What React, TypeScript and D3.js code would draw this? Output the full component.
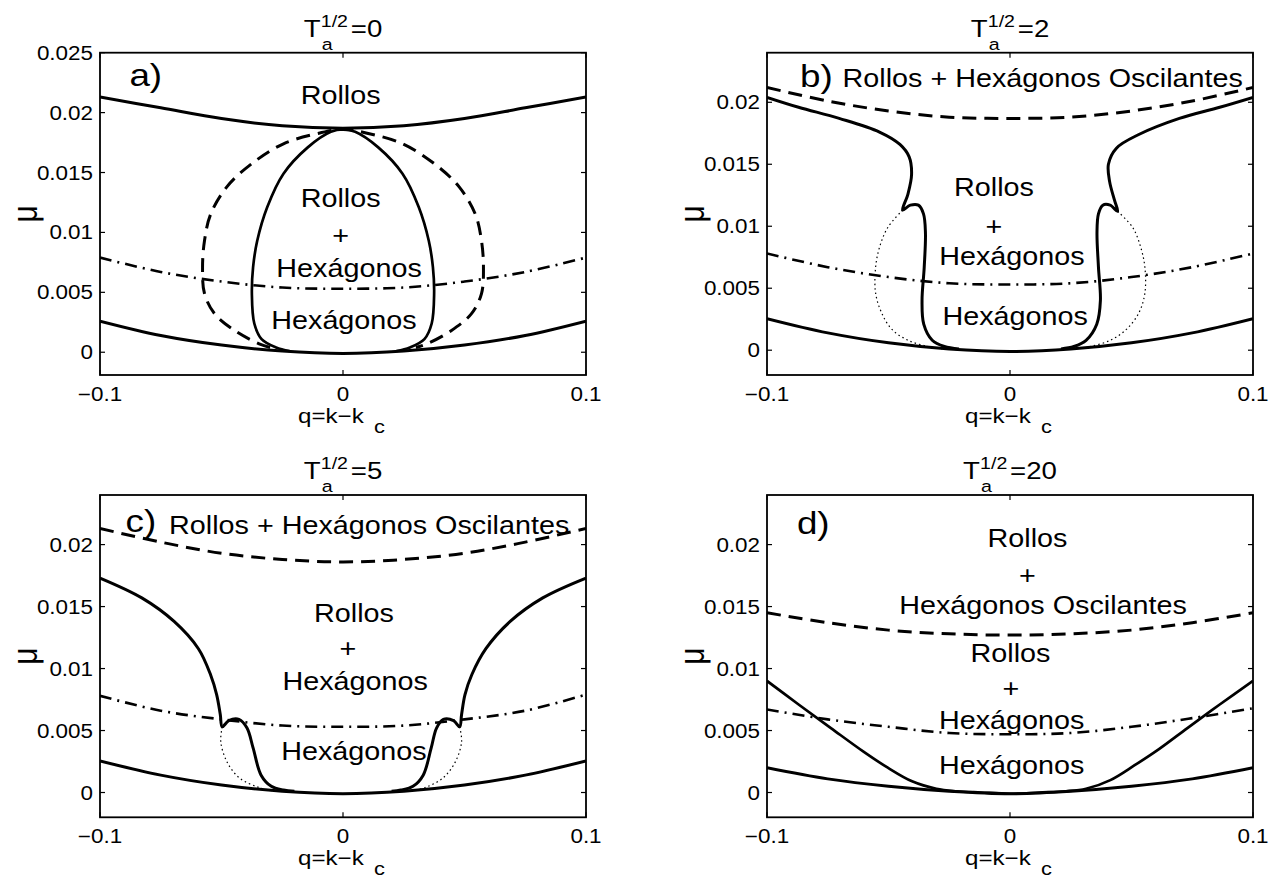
import React from 'react';
import * as d3 from 'd3';

type Pt = [number, number];

const FONT = "'Liberation Sans', Arial, Helvetica, sans-serif";
const SX = 1.15; // horizontal text stretch

// Wavenumber grid used by the smooth parabolic boundaries
const qGrid = [-0.1, -0.075, -0.05, -0.025, 0, 0.025, 0.05, 0.075, 0.1];
const xTicks = [-0.1, 0, 0.1];
const xTickLabels = ['\u22120.1', '0', '0.1'];
const yTicksA = [0, 0.005, 0.01, 0.015, 0.02, 0.025];
const yTicksB = [0, 0.005, 0.01, 0.015, 0.02];
const yTickLabels = ['0', '0.005', '0.01', '0.015', '0.02', '0.025'];

// ---- a) T^{1/2} = 0
const aRollsUpper = [0.0213, 0.0204, 0.0195, 0.0189, 0.0187, 0.0189, 0.0195, 0.0204, 0.0213];
const aNeutral = [0.0026, 0.0014, 0.0006, 0.0001, -0.0001, 0.0001, 0.0006, 0.0014, 0.0026];
const aHexStab = [0.0079, 0.0067, 0.0059, 0.0054, 0.0053, 0.0054, 0.0059, 0.0067, 0.0079];
const aDashedLoop: Pt[] = [
  [-0.030, 0.0004], [-0.0345, 0.0007], [-0.0445, 0.0018], [-0.0528, 0.0032], [-0.057, 0.0049],
  [-0.0578, 0.0071], [-0.057, 0.0093], [-0.0545, 0.0115], [-0.0478, 0.0138], [-0.0378, 0.0157],
  [-0.0245, 0.0174], [-0.0095, 0.0183], [0, 0.0186], [0.0095, 0.0183], [0.0245, 0.0174],
  [0.0378, 0.0157], [0.0478, 0.0138], [0.0545, 0.0115], [0.057, 0.0093], [0.0578, 0.0071],
  [0.057, 0.0049], [0.0528, 0.0032], [0.0445, 0.0018], [0.0345, 0.0007], [0.030, 0.0004],
];
const aSolidLoop: Pt[] = [
  [-0.022, 0.0001], [-0.0275, 0.0004], [-0.0335, 0.0011], [-0.0365, 0.0024], [-0.0375, 0.0049],
  [-0.037, 0.0071], [-0.0353, 0.0093], [-0.0312, 0.0121], [-0.0245, 0.0149], [-0.0145, 0.0171],
  [-0.005, 0.0184], [0, 0.0186], [0.005, 0.0184], [0.0145, 0.0171], [0.0245, 0.0149],
  [0.0312, 0.0121], [0.0353, 0.0093], [0.037, 0.0071], [0.0375, 0.0049], [0.0365, 0.0024],
  [0.0335, 0.0011], [0.0275, 0.0004], [0.022, 0.0001],
];

// ---- b) T^{1/2} = 2
const bOscDashed = [0.0212, 0.0201, 0.0193, 0.0188, 0.0187, 0.0188, 0.0193, 0.0201, 0.0212];
const bNeutral = [0.00255, 0.0014, 0.0006, 0.0001, -0.0001, 0.0001, 0.0006, 0.0014, 0.00255];
const bHexStab = [0.0078, 0.0067, 0.0059, 0.0054, 0.0053, 0.0054, 0.0059, 0.0067, 0.0078];
const bLeftBranch: Pt[] = [
  [-0.1, 0.0204], [-0.087, 0.0196], [-0.0703, 0.0187], [-0.0537, 0.0176], [-0.0453, 0.0166],
  [-0.0415, 0.0156], [-0.0405, 0.0142], [-0.042, 0.0126], [-0.0442, 0.0113], [-0.041, 0.0117],
  [-0.0377, 0.0117], [-0.0356, 0.011], [-0.0348, 0.0095], [-0.0353, 0.0067], [-0.0362, 0.004],
  [-0.0355, 0.0021], [-0.032, 0.0008], [-0.027, 0.0003], [-0.021, 0.0001],
];
const bRightBranch: Pt[] = [
  [0.1, 0.0204], [0.0863, 0.0196], [0.0697, 0.0187], [0.053, 0.0174], [0.0438, 0.0163],
  [0.0405, 0.015], [0.041, 0.0136], [0.043, 0.0121], [0.0443, 0.0112], [0.0412, 0.0117],
  [0.0382, 0.0117], [0.0364, 0.011], [0.0358, 0.0095], [0.0364, 0.0067], [0.0372, 0.004],
  [0.0357, 0.0021], [0.0313, 0.0008], [0.0263, 0.0003], [0.021, 0.0001],
];
const bLeftDotted: Pt[] = [
  [-0.0442, 0.0113], [-0.0503, 0.0099], [-0.0537, 0.0083], [-0.0553, 0.0067], [-0.0553, 0.0046],
  [-0.0528, 0.003], [-0.0487, 0.0017], [-0.042, 0.0008], [-0.0337, 0.0003], [-0.028, 0.0001],
];
const bRightDotted: Pt[] = [
  [0.0443, 0.0112], [0.0505, 0.0099], [0.0538, 0.0083], [0.0555, 0.0067], [0.0555, 0.0046],
  [0.053, 0.003], [0.048, 0.0017], [0.0413, 0.0008], [0.033, 0.0003], [0.028, 0.0001],
];

// ---- c) T^{1/2} = 5
const cOscDashed = [0.0213, 0.0202, 0.0193, 0.0188, 0.0186, 0.0188, 0.0193, 0.0202, 0.0213];
const cNeutral = [0.00255, 0.0014, 0.0006, 0.0001, -0.0001, 0.0001, 0.0006, 0.0014, 0.00255];
const cHexStab = [0.0078, 0.0066, 0.0059, 0.0054, 0.0053, 0.0054, 0.0059, 0.0066, 0.0079];
const cLeftBranch: Pt[] = [
  [-0.1, 0.0173], [-0.0828, 0.0157], [-0.0695, 0.0138], [-0.0595, 0.0116], [-0.0545, 0.0095],
  [-0.052, 0.0079], [-0.0505, 0.0063], [-0.0497, 0.0053], [-0.047, 0.0058], [-0.0428, 0.0059],
  [-0.0395, 0.0052], [-0.037, 0.0036], [-0.0337, 0.0014], [-0.0295, 0.0005], [-0.0245, 0.0002],
  [-0.02, 0.0001],
];
const cRightBranch: Pt[] = [
  [0.1, 0.0173], [0.0822, 0.0157], [0.0688, 0.0138], [0.0588, 0.0116], [0.053, 0.0095],
  [0.0502, 0.0079], [0.0488, 0.0063], [0.048, 0.0053], [0.0455, 0.0058], [0.0413, 0.0059],
  [0.0385, 0.0052], [0.0363, 0.0036], [0.033, 0.0014], [0.0288, 0.0005], [0.0238, 0.0002],
  [0.02, 0.0001],
];
const cLeftDotted: Pt[] = [
  [-0.0497, 0.0053], [-0.0503, 0.0041], [-0.0478, 0.0025], [-0.0428, 0.0012], [-0.0345, 0.0004],
  [-0.028, 0.0001],
];
const cRightDotted: Pt[] = [
  [0.048, 0.0053], [0.0488, 0.0041], [0.0463, 0.0025], [0.0413, 0.0012], [0.0338, 0.0004],
  [0.027, 0.0001],
];

// ---- d) T^{1/2} = 20
const dOscDashed = [0.0145, 0.0137, 0.0131, 0.0128, 0.0127, 0.0128, 0.0131, 0.0137, 0.0145];
const dNeutral = [0.002, 0.0011, 0.0005, 0.0001, -0.0001, 0.0001, 0.0005, 0.0011, 0.002];
const dHexStab = [0.0067, 0.0059, 0.0053, 0.0048, 0.0047, 0.0048, 0.0053, 0.006, 0.0068];
const dRollsBoundary: Pt[] = [
  [-0.1, 0.009], [-0.087, 0.0071], [-0.0737, 0.0052], [-0.0603, 0.0033], [-0.0503, 0.002],
  [-0.0403, 0.0009], [-0.0303, 0.0003], [-0.022, 0.0001], [-0.012, 0], [0, -0.0001],
  [0.012, 0], [0.023, 0.0001], [0.0313, 0.0003], [0.0413, 0.001], [0.0513, 0.0022],
  [0.0613, 0.0035], [0.073, 0.0052], [0.0863, 0.0071], [0.1, 0.009],
];

const onGrid = (vals: number[]): Pt[] => qGrid.map((q, i) => [q, vals[i]]);

type Style = 'solid' | 'thin' | 'dashed' | 'dashdot' | 'dotted';
const STYLES: Record<Style, { w: number; dash?: string }> = {
  solid: { w: 3 },
  thin: { w: 2.7 },
  dashed: { w: 3, dash: '14 8' },
  dashdot: { w: 2.6, dash: '12 6 2 6' },
  dotted: { w: 1.2, dash: '1.5 3' },
};

interface Lbl { q: number; mu: number; text: string; anchor: 'start' | 'middle'; size: number }
interface PanelSpec {
  id: string;
  left: number;
  top: number;
  yDomain: [number, number];
  yTicks: number[];
  ta: string;
  curves: { pts: Pt[]; style: Style }[];
  labels: Lbl[];
}

const W_AX = 486;
const H_AX = 322.3;
const REG = 25;
const TAG = 32;

const panels: PanelSpec[] = [
  {
    id: 'a', left: 100, top: 52.7, yDomain: [-0.0019, 0.025], yTicks: yTicksA, ta: '0',
    curves: [
      { pts: onGrid(aRollsUpper), style: 'solid' },
      { pts: onGrid(aNeutral), style: 'solid' },
      { pts: onGrid(aHexStab), style: 'dashdot' },
      { pts: aDashedLoop, style: 'dashed' },
      { pts: aSolidLoop, style: 'thin' },
    ],
    labels: [
      { q: -0.0879, mu: 0.0222, text: 'a)', anchor: 'start', size: TAG },
      { q: -0.001, mu: 0.0207, text: 'Rollos', anchor: 'middle', size: REG },
      { q: -0.001, mu: 0.0121, text: 'Rollos', anchor: 'middle', size: REG },
      { q: -0.001, mu: 0.009, text: '+', anchor: 'middle', size: REG },
      { q: 0.0025, mu: 0.0063, text: 'Hexágonos', anchor: 'middle', size: REG },
      { q: 0.0004, mu: 0.0019, text: 'Hexágonos', anchor: 'middle', size: REG },
    ],
  },
  {
    id: 'b', left: 767, top: 52.7, yDomain: [-0.002, 0.024], yTicks: yTicksB, ta: '2',
    curves: [
      { pts: onGrid(bOscDashed), style: 'dashed' },
      { pts: onGrid(bNeutral), style: 'solid' },
      { pts: onGrid(bHexStab), style: 'dashdot' },
      { pts: bLeftBranch, style: 'solid' },
      { pts: bRightBranch, style: 'solid' },
      { pts: bLeftDotted, style: 'dotted' },
      { pts: bRightDotted, style: 'dotted' },
    ],
    labels: [
      { q: -0.0864, mu: 0.0212, text: 'b)', anchor: 'start', size: TAG },
      { q: -0.0689, mu: 0.0212, text: 'Rollos + Hexágonos Oscilantes', anchor: 'start', size: REG },
      { q: -0.0066, mu: 0.0124, text: 'Rollos', anchor: 'middle', size: REG },
      { q: -0.0066, mu: 0.0093, text: '+', anchor: 'middle', size: REG },
      { q: 0.0008, mu: 0.0069, text: 'Hexágonos', anchor: 'middle', size: REG },
      { q: 0.0021, mu: 0.002, text: 'Hexágonos', anchor: 'middle', size: REG },
    ],
  },
  {
    id: 'c', left: 100, top: 495, yDomain: [-0.002, 0.024], yTicks: yTicksB, ta: '5',
    curves: [
      { pts: onGrid(cOscDashed), style: 'dashed' },
      { pts: onGrid(cNeutral), style: 'solid' },
      { pts: onGrid(cHexStab), style: 'dashdot' },
      { pts: cLeftBranch, style: 'solid' },
      { pts: cRightBranch, style: 'solid' },
      { pts: cLeftDotted, style: 'dotted' },
      { pts: cRightDotted, style: 'dotted' },
    ],
    labels: [
      { q: -0.0895, mu: 0.021, text: 'c)', anchor: 'start', size: TAG },
      { q: -0.0716, mu: 0.02085, text: 'Rollos + Hexágonos Oscilantes', anchor: 'start', size: REG },
      { q: 0.0045, mu: 0.01375, text: 'Rollos', anchor: 'middle', size: REG },
      { q: 0.002, mu: 0.0109, text: '+', anchor: 'middle', size: REG },
      { q: 0.005, mu: 0.00826, text: 'Hexágonos', anchor: 'middle', size: REG },
      { q: 0.0045, mu: 0.0026, text: 'Hexágonos', anchor: 'middle', size: REG },
    ],
  },
  {
    id: 'd', left: 767, top: 495, yDomain: [-0.002, 0.024], yTicks: yTicksB, ta: '20',
    curves: [
      { pts: onGrid(dOscDashed), style: 'dashed' },
      { pts: onGrid(dNeutral), style: 'solid' },
      { pts: onGrid(dHexStab), style: 'dashdot' },
      { pts: dRollsBoundary, style: 'thin' },
    ],
    labels: [
      { q: -0.0877, mu: 0.02085, text: 'd)', anchor: 'start', size: TAG },
      { q: 0.0072, mu: 0.0198, text: 'Rollos', anchor: 'middle', size: REG },
      { q: 0.0072, mu: 0.01685, text: '+', anchor: 'middle', size: REG },
      { q: 0.0136, mu: 0.01439, text: 'Hexágonos Oscilantes', anchor: 'middle', size: REG },
      { q: 0.0002, mu: 0.01052, text: 'Rollos', anchor: 'middle', size: REG },
      { q: 0.0004, mu: 0.00774, text: '+', anchor: 'middle', size: REG },
      { q: 0.0007, mu: 0.00511, text: 'Hexágonos', anchor: 'middle', size: REG },
      { q: 0.0007, mu: 0.00148, text: 'Hexágonos', anchor: 'middle', size: REG },
    ],
  },
];

function Txt(props: {
  x: number; y: number; size: number; anchor?: 'start' | 'middle' | 'end'; children: React.ReactNode;
}) {
  const { x, y, size, anchor = 'start', children } = props;
  return (
    <text
      transform={`translate(${x},${y}) scale(${SX},1)`}
      fontSize={size}
      textAnchor={anchor}
      fontFamily={FONT}
      fill="#000"
    >
      {children}
    </text>
  );
}

function Panel({ p }: { p: PanelSpec }) {
  const x = d3.scaleLinear().domain([-0.1, 0.1]).range([p.left, p.left + W_AX]);
  const y = d3.scaleLinear().domain(p.yDomain).range([p.top + H_AX, p.top]);
  const line = d3
    .line<Pt>()
    .x((d) => x(d[0]))
    .y((d) => y(d[1]))
    .curve(d3.curveCatmullRom.alpha(0.5));
  const right = p.left + W_AX;
  const bottom = p.top + H_AX;
  const cx = p.left + W_AX / 2;
  const cy = p.top + H_AX / 2;
  const clipId = `clip-${p.id}`;
  const tick = 5;

  // title T_a^{1/2}=value
  const tSize = 24;
  const sSize = 17;
  const valW = (0.584 + 0.556 * p.ta.length) * tSize * SX;
  const supX = 17;
  const valX = 47;
  const titleW = valX + valW;
  const x0 = cx - titleW / 2;

  return (
    <g>
      <defs>
        <clipPath id={clipId}>
          <rect x={p.left} y={p.top} width={W_AX} height={H_AX} />
        </clipPath>
      </defs>
      <g clipPath={`url(#${clipId})`}>
        {p.curves.map((c, i) => {
          const s = STYLES[c.style];
          return (
            <path
              key={i}
              d={line(c.pts) || ''}
              fill="none"
              stroke="#000"
              strokeWidth={s.w}
              strokeDasharray={s.dash}
              strokeLinejoin="round"
            />
          );
        })}
      </g>
      {/* frame */}
      <rect x={p.left} y={p.top} width={W_AX} height={H_AX} fill="none" stroke="#000" strokeWidth={1.8} />
      {/* y ticks, both sides */}
      {p.yTicks.map((t, i) => (
        <g key={`y${i}`}>
          <line x1={p.left} x2={p.left + tick} y1={y(t)} y2={y(t)} stroke="#000" strokeWidth={1.2} />
          <line x1={right - tick} x2={right} y1={y(t)} y2={y(t)} stroke="#000" strokeWidth={1.2} />
          <Txt x={p.left - 7} y={y(t) + 7} size={19.5} anchor="end">
            {yTickLabels[yTicksA.indexOf(t)]}
          </Txt>
        </g>
      ))}
      {/* x ticks, both sides */}
      {xTicks.map((t, i) => (
        <g key={`x${i}`}>
          <line x1={x(t)} x2={x(t)} y1={bottom} y2={bottom - tick} stroke="#000" strokeWidth={1.2} />
          <line x1={x(t)} x2={x(t)} y1={p.top} y2={p.top + tick} stroke="#000" strokeWidth={1.2} />
          <Txt x={x(t)} y={bottom + 26} size={19.5} anchor="middle">
            {xTickLabels[i]}
          </Txt>
        </g>
      ))}
      {/* region labels */}
      {p.labels.map((l, i) => (
        <Txt key={`l${i}`} x={x(l.q)} y={y(l.mu)} size={l.size} anchor={l.anchor}>
          {l.text}
        </Txt>
      ))}
      {/* title */}
      <Txt x={x0} y={p.top - 16} size={tSize}>T</Txt>
      <Txt x={x0 + supX} y={p.top - 26} size={sSize}>1/2</Txt>
      <Txt x={x0 + supX + 1} y={p.top - 3} size={sSize}>a</Txt>
      <Txt x={x0 + valX} y={p.top - 16} size={tSize}>{'=' + p.ta}</Txt>
      {/* x label */}
      <Txt x={cx - 45} y={bottom + 48} size={21}>q=k{'\u2212'}k</Txt>
      <Txt x={cx + 31} y={bottom + 58} size={19}>c</Txt>
      {/* y label */}
      <text
        transform={`translate(${p.left - 63},${cy}) rotate(-90) scale(1,${SX})`}
        fontSize={30}
        textAnchor="middle"
        fontFamily={FONT}
      >
        μ
      </text>
    </g>
  );
}

export default function App() {
  return (
    <svg
      width={1272}
      height={884}
      style={{ position: 'absolute', left: 0, top: 0, display: 'block', background: '#fff' }}
    >
      <rect x={0} y={0} width={1272} height={884} fill="#fff" />
      {panels.map((p) => (
        <Panel key={p.id} p={p} />
      ))}
    </svg>
  );
}
